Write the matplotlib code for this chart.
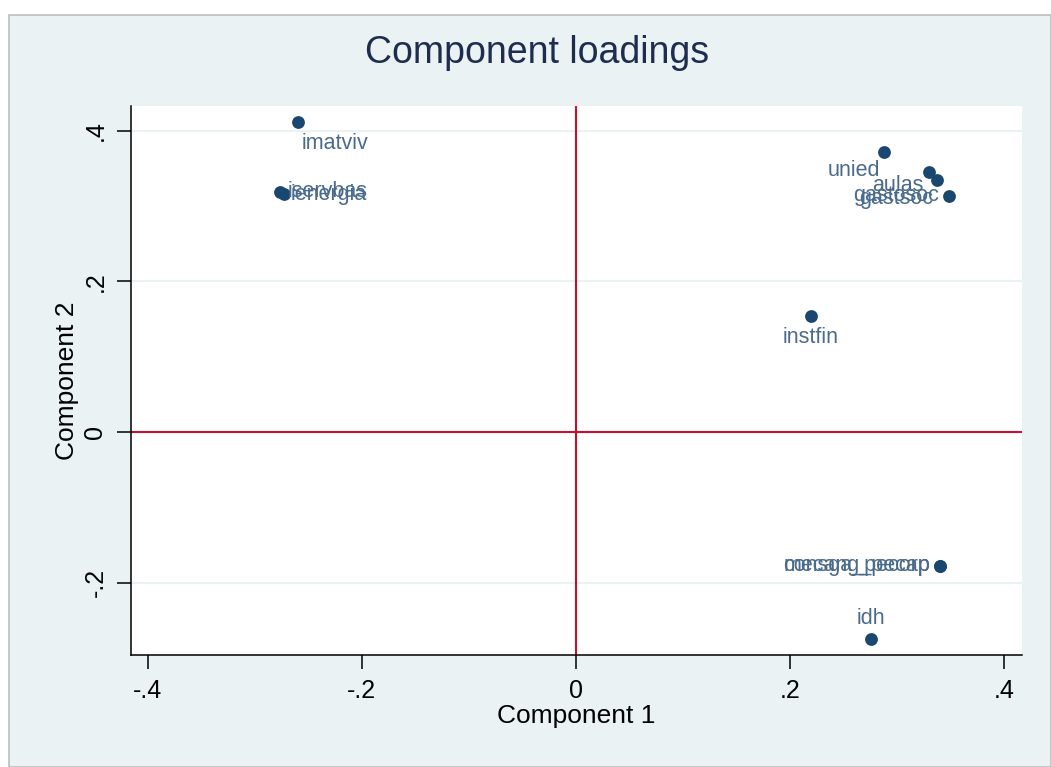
import numpy as np
import matplotlib
matplotlib.use('Agg')
import matplotlib.pyplot as plt
from matplotlib.patches import Rectangle

plt.rcParams['font.family'] = ['Liberation Sans', 'DejaVu Sans']

# loadings on the first two components
variables = ['imatviv', 'iservbas', 'ienergia', 'unied', 'aulas', 'gastsoc', 'gastosoc',
             'instfin', 'mecang_pecap', 'consga_pecorp', 'idh']
comp1 = [-0.260, -0.276, -0.273, 0.288, 0.330, 0.337, 0.348, 0.219, 0.340, 0.340, 0.275]
comp2 = [0.412, 0.319, 0.316, 0.372, 0.345, 0.335, 0.314, 0.154, -0.178, -0.178, -0.275]

x_ticks = [-0.4, -0.2, 0, 0.2, 0.4]
x_ticklabels = ['-.4', '-.2', '0', '.2', '.4']
y_ticks = [-0.2, 0, 0.2, 0.4]
y_ticklabels = ['-.2', '0', '.2', '.4']

# label placement as clock positions (stata style)
clock = [5, 3, 3, 7, 8, 7, 9, 6, 9, 9, 12]
offsets = {3: (5, 0, 'left', 'center'), 5: (3, -8, 'left', 'top'),
           6: (0, -8, 'center', 'top'), 7: (-3, -6, 'right', 'top'),
           8: (-4, -2, 'right', 'top'), 9: (-7, 0, 'right', 'center'),
           12: (0, 7, 'center', 'bottom')}

bg = '#eaf2f3'
navy = '#1a476f'
label_col = '#4a6b8c'

fig = plt.figure(figsize=(10.51, 7.67), dpi=100, facecolor='white')
fig.patches.append(Rectangle((9 / 1051, 0), 1 - 9 / 1051, 1 - 15 / 767, transform=fig.transFigure,
                             facecolor=bg, edgecolor='#bdbdbd', linewidth=1.2, zorder=-5))

ax = fig.add_axes([131 / 1051, 1 - 655 / 767, 891 / 1051, 549 / 767])
ax.set_zorder(2)
ax.set_facecolor('white')
ax.set_xlim(-0.4155, 0.4164)
ax.set_ylim(-0.2963, 0.4332)

for yt in y_ticks:
    ax.axhline(yt, color=bg, linewidth=1.5, zorder=1)
ax.axhline(0, color='#c8102e', linewidth=1.5, zorder=2)
ax.axvline(0, color='#c8102e', linewidth=1.5, zorder=2)

ax.scatter(comp1, comp2, s=85, color=navy, zorder=3, linewidths=0)
for name, cx, cy, pos in zip(variables, comp1, comp2, clock):
    dx, dy, ha, va = offsets[pos]
    ax.annotate(name, (cx, cy), xytext=(dx, dy), textcoords='offset points',
                ha=ha, va=va, fontsize=15.5, color=label_col, zorder=4)

for side in ['top', 'right']:
    ax.spines[side].set_visible(False)
for side in ['left', 'bottom']:
    ax.spines[side].set_color('black')
    ax.spines[side].set_linewidth(1.1)

ax.set_xticks(x_ticks)
ax.set_xticklabels(x_ticklabels)
ax.set_yticks(y_ticks)
ax.set_yticklabels(y_ticklabels, rotation=90, va='center')
ax.tick_params(axis='both', length=10, width=1.1, labelsize=18, pad=7)

ax.set_xlabel('Component 1', fontsize=19, labelpad=1)
ax.set_ylabel('Component 2', fontsize=19, labelpad=3)
fig.text(537 / 1051, 1 - 53 / 767, 'Component loadings', fontsize=27, color='#1e2d4f',
         ha='center', va='center')

fig.savefig('out.png', dpi=100, facecolor=fig.get_facecolor())
